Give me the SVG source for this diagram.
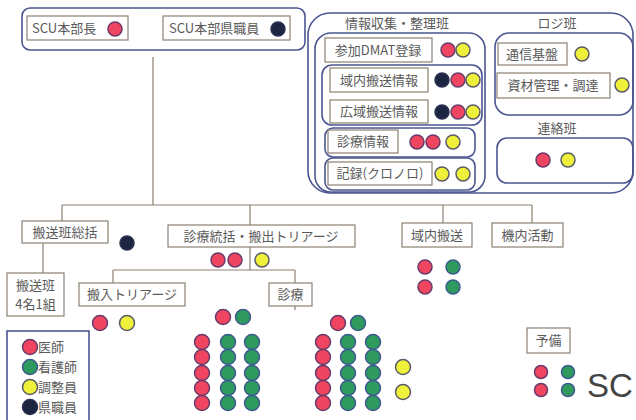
<svg xmlns="http://www.w3.org/2000/svg" width="636" height="420" viewBox="0 0 636 420">
<style>
.bx{fill:#fff;stroke:#8c8070;stroke-width:1.2}
.grp{fill:none;stroke:#4b5590;stroke-width:1.6}
.ln{stroke:#8c8070;stroke-width:1.2;fill:none}
.t{font-family:"Noto Sans CJK JP","Noto Sans CJK SC",sans-serif;font-size:13px;fill:#5a5a5a}
.r{fill:#ef4560;stroke:#6a3a6a;stroke-width:1.5}
.g{fill:#2e9a5e;stroke:#3d5a8e;stroke-width:1.5}
.y{fill:#eef03a;stroke:#5a5a6a;stroke-width:1.5}
.k{fill:#1d2640;stroke:#2a3050;stroke-width:1.5}
</style>
<rect width="636" height="420" fill="#fff"/>
<g id="connectors">
<path class="ln" d="M153 57V205M62 205H532M62 205V221M250 205V225M443 205V223M532 205V223"/>
<path class="ln" d="M43 243V273"/>
<path class="ln" d="M250 247V270M113 270H295M113 270V283M295 270V283M295 306V310"/>
</g>
<g id="hq">
<rect class="grp" x="22" y="8" width="283" height="42" rx="8"/>
<rect class="bx" x="27" y="16" width="101" height="24"/>
<text class="t" x="32" y="33">SCU本部長</text>
<circle class="r" cx="115" cy="29" r="7"/>
<rect class="bx" x="163" y="16" width="127" height="24"/>
<text class="t" x="169" y="33">SCU本部県職員</text>
<circle class="k" cx="278" cy="29" r="7"/>
</g>
<g id="info-logi">
<rect class="grp" x="308" y="13" width="325" height="180" rx="22"/>
<text class="t" x="397" y="28" text-anchor="middle">情報収集・整理班</text>
<text class="t" x="557" y="28" text-anchor="middle">ロジ班</text>
<rect class="grp" x="315" y="33" width="170" height="159" rx="16"/>
</g>
<g id="dmat">
<rect class="bx" x="325" y="38" width="107" height="24"/>
<text class="t" x="378" y="55" text-anchor="middle">参加DMAT登録</text>
<circle class="r" cx="448" cy="50" r="7"/>
<circle class="y" cx="463" cy="50" r="7"/>
</g>
<g id="transport-info">
<rect class="grp" x="322" y="65" width="160" height="60" rx="10"/>
<rect class="bx" x="330" y="68" width="98" height="24"/>
<text class="t" x="379" y="85" text-anchor="middle">域内搬送情報</text>
<circle class="k" cx="442" cy="80" r="7"/>
<circle class="r" cx="458" cy="80" r="7"/>
<circle class="y" cx="473" cy="80" r="7"/>
<rect class="bx" x="330" y="100" width="98" height="23"/>
<text class="t" x="379" y="116" text-anchor="middle">広域搬送情報</text>
<circle class="k" cx="442" cy="112" r="7"/>
<circle class="r" cx="458" cy="112" r="7"/>
<circle class="y" cx="473" cy="112" r="7"/>
</g>
<g id="medical-info">
<rect class="grp" x="325" y="128" width="150" height="29" rx="8"/>
<rect class="bx" x="328" y="130" width="70" height="23"/>
<text class="t" x="363" y="146" text-anchor="middle">診療情報</text>
<circle class="r" cx="417" cy="142" r="7"/>
<circle class="r" cx="433" cy="142" r="7"/>
<circle class="y" cx="453" cy="142" r="7"/>
</g>
<g id="record">
<rect class="grp" x="325" y="158" width="150" height="32" rx="8"/>
<rect class="bx" x="328" y="162" width="104" height="23"/>
<text class="t" x="380" y="178" text-anchor="middle">記録(クロノロ)</text>
<circle class="y" cx="442" cy="174" r="7"/>
<circle class="y" cx="463" cy="174" r="7"/>
</g>
<g id="logi">
<rect class="grp" x="495" y="33" width="138" height="82" rx="14"/>
<rect class="bx" x="498" y="43" width="69" height="22"/>
<text class="t" x="532" y="59" text-anchor="middle">通信基盤</text>
<circle class="y" cx="582" cy="54" r="7"/>
<rect class="bx" x="497" y="73" width="113" height="25"/>
<text class="t" x="553" y="90" text-anchor="middle">資材管理・調達</text>
<circle class="y" cx="622" cy="85" r="7"/>
</g>
<g id="liaison">
<text class="t" x="557" y="133" text-anchor="middle">連絡班</text>
<rect class="grp" x="497" y="138" width="136" height="45" rx="10"/>
<circle class="r" cx="543" cy="160" r="7"/>
<circle class="y" cx="568" cy="160" r="7"/>
</g>
<g id="transport-chief">
<rect class="bx" x="22" y="221" width="86" height="22"/>
<text class="t" x="65" y="237" text-anchor="middle">搬送班総括</text>
<circle class="k" cx="127" cy="243" r="7"/>
</g>
<g id="transport-team">
<rect class="bx" x="7" y="273" width="57" height="43"/>
<text class="t" x="35.5" y="290" text-anchor="middle">搬送班</text>
<text class="t" x="35.5" y="309" text-anchor="middle">4名1組</text>
</g>
<g id="medical-chief">
<rect class="bx" x="168" y="225" width="187" height="22"/>
<text class="t" x="261" y="241" text-anchor="middle">診療統括・搬出トリアージ</text>
<circle class="r" cx="218" cy="260" r="7"/>
<circle class="r" cx="235" cy="260" r="7"/>
<circle class="y" cx="262" cy="260" r="7"/>
</g>
<g id="triage">
<rect class="bx" x="79" y="283" width="106" height="23"/>
<text class="t" x="132" y="299" text-anchor="middle">搬入トリアージ</text>
<circle class="r" cx="100" cy="323" r="7.5"/>
<circle class="y" cx="127" cy="323" r="7.5"/>
</g>
<g id="treatment">
<rect class="bx" x="269" y="283" width="43" height="23"/>
<text class="t" x="290.5" y="299" text-anchor="middle">診療</text>
</g>
<g id="team1">
<circle class="r" cx="223" cy="317" r="7.5"/>
<circle class="g" cx="243" cy="317" r="7.5"/>
<circle class="r" cx="202" cy="342" r="7.5"/><circle class="r" cx="202" cy="357" r="7.5"/><circle class="r" cx="202" cy="373" r="7.5"/><circle class="r" cx="202" cy="388" r="7.5"/><circle class="r" cx="202" cy="403" r="7.5"/>
<circle class="g" cx="228" cy="342" r="7.5"/><circle class="g" cx="228" cy="357" r="7.5"/><circle class="g" cx="228" cy="373" r="7.5"/><circle class="g" cx="228" cy="388" r="7.5"/><circle class="g" cx="228" cy="403" r="7.5"/>
<circle class="g" cx="252" cy="342" r="7.5"/><circle class="g" cx="252" cy="357" r="7.5"/><circle class="g" cx="252" cy="373" r="7.5"/><circle class="g" cx="252" cy="388" r="7.5"/><circle class="g" cx="252" cy="403" r="7.5"/>
</g>
<g id="team2">
<circle class="r" cx="338" cy="323" r="7.5"/>
<circle class="g" cx="358" cy="323" r="7.5"/>
<circle class="r" cx="323" cy="342" r="7.5"/><circle class="r" cx="323" cy="357" r="7.5"/><circle class="r" cx="323" cy="373" r="7.5"/><circle class="r" cx="323" cy="388" r="7.5"/><circle class="r" cx="323" cy="403" r="7.5"/>
<circle class="g" cx="348" cy="342" r="7.5"/><circle class="g" cx="348" cy="357" r="7.5"/><circle class="g" cx="348" cy="373" r="7.5"/><circle class="g" cx="348" cy="388" r="7.5"/><circle class="g" cx="348" cy="403" r="7.5"/>
<circle class="g" cx="373" cy="342" r="7.5"/><circle class="g" cx="373" cy="357" r="7.5"/><circle class="g" cx="373" cy="373" r="7.5"/><circle class="g" cx="373" cy="388" r="7.5"/><circle class="g" cx="373" cy="403" r="7.5"/>
<circle class="y" cx="403" cy="367" r="7.5"/>
<circle class="y" cx="403" cy="392" r="7.5"/>
</g>
<g id="local-transport">
<rect class="bx" x="402" y="223" width="70" height="24"/>
<text class="t" x="437" y="240" text-anchor="middle">域内搬送</text>
<circle class="r" cx="425" cy="267" r="7"/>
<circle class="g" cx="453" cy="267" r="7"/>
<circle class="r" cx="425" cy="287" r="7"/>
<circle class="g" cx="453" cy="287" r="7"/>
</g>
<g id="onboard">
<rect class="bx" x="492" y="223" width="71" height="24"/>
<text class="t" x="527.5" y="240" text-anchor="middle">機内活動</text>
</g>
<g id="reserve">
<rect class="bx" x="527" y="328" width="43" height="25"/>
<text class="t" x="548.5" y="345" text-anchor="middle">予備</text>
<circle class="r" cx="541" cy="372" r="6.5"/>
<circle class="g" cx="568" cy="372" r="6.5"/>
<circle class="r" cx="541" cy="390" r="6.5"/>
<circle class="g" cx="568" cy="390" r="6.5"/>
<text x="587" y="397" font-family="Liberation Sans,Arial,sans-serif" font-size="33" fill="#444">SC</text>
</g>
<g id="legend">
<rect class="grp" x="7" y="331" width="82" height="95" fill="#fff"/>
<circle class="r" cx="30" cy="347" r="7.5"/>
<text class="t" x="38" y="352">医師</text>
<circle class="g" cx="30" cy="367" r="7.5"/>
<text class="t" x="38" y="372">看護師</text>
<circle class="y" cx="30" cy="387" r="7.5"/>
<text class="t" x="38" y="392">調整員</text>
<circle class="k" cx="30" cy="407" r="7.5"/>
<text class="t" x="38" y="412">県職員</text>
</g>
</svg>
